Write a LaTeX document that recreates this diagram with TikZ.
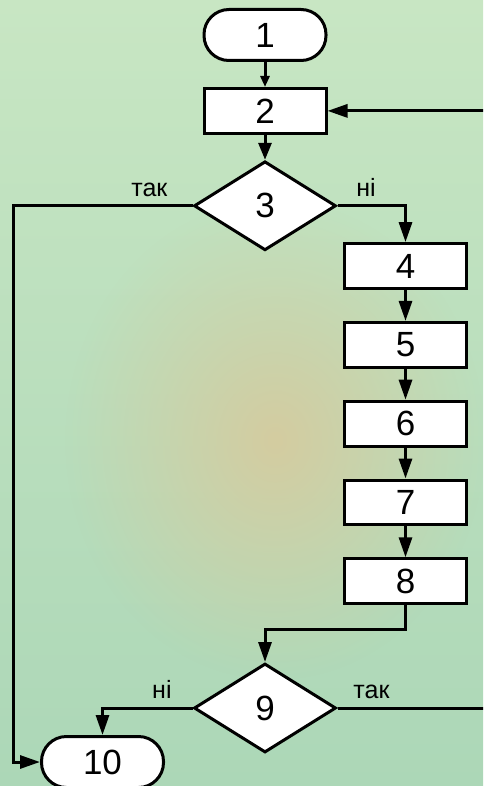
\documentclass[tikz,border=0pt]{standalone}
\usepackage{fontspec}
\setmainfont{Liberation Sans}
\usetikzlibrary{arrows.meta, positioning, shapes.geometric, fadings}
\definecolor{bgmint}{RGB}{200,230,195}
\definecolor{bgsea}{RGB}{172,215,183}
\definecolor{bgtan}{RGB}{212,204,160}
\tikzfading[name=softspot, inner color=transparent!0, outer color=transparent!100]
\tikzset{
  block/.style={
    draw=black,
    fill=white,
    line width=3pt,
    align=center,
    inner sep=0pt,
    font=\fontsize{35}{35}\selectfont
  },
  term/.style={block, rounded corners=25pt, minimum width=122pt, minimum height=51pt},
  proc/.style={block, minimum width=122pt, minimum height=44.8pt},
  cond/.style={block, diamond, aspect=1.57, minimum width=142pt, minimum height=89pt},
  arrow/.style={-{Triangle[length=20pt, width=13pt]}, line width=3pt, draw=black},
  lbl/.style={font=\fontsize{25}{25}\selectfont, inner sep=0pt, above=8pt}
}

\begin{document}
\begin{tikzpicture}[x=1pt, y=-1pt, node distance=31pt]
  \clip (0,0) rectangle (483,786);
  % background
  \shade[top color=bgmint, bottom color=bgsea] (0,0) rectangle (483,786);
  \fill[bgtan, path fading=softspot] (275,440) ellipse (210 and 240);

  \node[term] (n1) at (265,35) {1};
  \node[proc, below=25pt of n1] (n2) {2};
  \node[cond, below=25pt of n2] (n3) {3};

  \node[proc] (n4) at (405.5,266) {4};
  \node[proc, below=of n4] (n5) {5};
  \node[proc, below=of n5] (n6) {6};
  \node[proc, below=of n6] (n7) {7};
  \node[proc, below=of n7] (n8) {8};

  \node[cond] (n9) at (265,708) {9};
  \node[term] (n10) at (102.5,762) {10};

  \coordinate (leftrail) at (13,0 |- n3.west);
  \coordinate (rightrail) at (492,0 |- n9.east);

  \draw[arrow, -{Triangle[length=11pt, width=9pt]}] (n1) -- (n2);
  \draw[arrow, -{Triangle[length=17pt, width=13pt]}] (n2) -- (n3);
  \draw[arrow] (n3.west) -- node[lbl, pos=0.24] {так} (leftrail) |- (n10.west);
  \draw[arrow] (n3.east) -| node[lbl, pos=0.21] {ні} (n4.north);
  \draw[arrow] (n4) -- (n5);
  \draw[arrow] (n5) -- (n6);
  \draw[arrow] (n6) -- (n7);
  \draw[arrow] (n7) -- (n8);
  \draw[arrow] (n8.south) -- ++(0,24) -| (n9.north);
  \draw[arrow] (n9.west) -| node[lbl, pos=0.17] {ні} (n10.north);
  \draw[arrow] (n9.east) -- node[lbl, pos=0.22] {так} (rightrail) |- (n2.east);
\end{tikzpicture}
\end{document}
